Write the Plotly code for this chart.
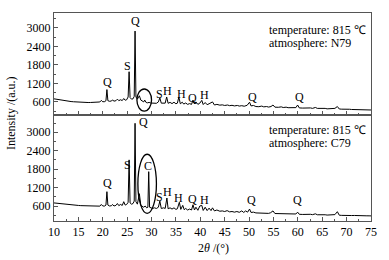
import plotly.graph_objects as go

# ---------------- data ----------------
two_theta_N79 = [10.0, 10.5, 11.0, 11.5, 12.0, 12.5, 13.0, 13.5, 14.0, 14.5, 15.0, 15.5, 16.0, 16.5, 17.0, 17.5,
                 18.0, 18.5, 19.0, 19.4, 19.7, 20.0, 20.4, 20.65, 20.85, 21.05, 21.4, 21.8, 22.0, 22.3, 22.7, 23.0,
                 23.3, 23.6, 24.0, 24.3, 24.6, 24.9, 25.2, 25.4, 25.6, 25.9, 26.2, 26.45, 26.62, 26.8, 27.1, 27.5,
                 27.8, 28.1, 28.4, 28.6, 28.9, 29.2, 29.5, 29.8, 30.2, 30.6, 31.0, 31.4, 31.7, 32.0, 32.5, 32.8,
                 33.1, 33.4, 33.8, 34.2, 34.6, 35.0, 35.3, 35.6, 35.9, 36.3, 36.6, 37.0, 37.4, 37.8, 38.2, 38.5,
                 38.8, 39.1, 39.5, 39.9, 40.3, 40.6, 41.0, 41.4, 41.8, 42.5, 42.9, 43.4, 44.0, 44.5, 45.0, 45.6,
                 46.0, 46.5, 47.0, 47.6, 48.0, 48.5, 49.0, 49.6, 50.1, 50.4, 50.9, 51.4, 52.0, 52.6, 53.0, 53.6,
                 54.0, 54.5, 54.9, 55.3, 56.0, 56.6, 57.0, 57.6, 58.0, 58.6, 59.0, 59.6, 59.95, 60.3, 61.0, 61.6,
                 62.0, 62.6, 63.0, 63.6, 64.0, 64.6, 65.0, 65.6, 66.0, 66.6, 67.0, 67.6, 68.1, 68.5, 69.0, 69.6,
                 70.0, 70.6, 71.0, 71.6, 72.0, 72.6, 73.0, 73.6, 74.0, 74.6, 75.0]
intensity_N79 = [700, 685, 670, 655, 640, 630, 620, 612, 605, 598, 592, 588, 585, 582, 580, 582,
                 585, 590, 592, 598, 650, 605, 610, 640, 1000, 640, 620, 630, 665, 625, 640, 690,
                 640, 670, 645, 710, 655, 670, 760, 1580, 740, 690, 700, 780, 2900, 760, 690, 800,
                 660, 620, 600, 660, 580, 570, 585, 565, 560, 575, 555, 600, 730, 560, 575, 560,
                 760, 555, 585, 545, 590, 540, 560, 760, 540, 590, 530, 565, 520, 545, 520, 660,
                 540, 600, 520, 560, 650, 515, 580, 510, 540, 600, 500, 520, 495, 505, 485, 500,
                 478, 490, 470, 485, 465, 478, 460, 490, 590, 470, 485, 450, 445, 465, 440, 450,
                 432, 450, 500, 430, 425, 440, 418, 430, 412, 420, 405, 415, 500, 405, 400, 410,
                 395, 405, 390, 420, 390, 395, 380, 390, 375, 380, 370, 390, 450, 370, 365, 370,
                 358, 362, 355, 356, 350, 350, 347, 345, 343, 340, 338]

two_theta_C79 = [10.0, 10.5, 11.0, 11.5, 12.0, 12.5, 13.0, 13.5, 14.0, 14.5, 15.0, 15.5, 16.0, 16.5, 17.0, 17.5,
                 18.0, 18.5, 19.0, 19.4, 19.7, 20.0, 20.4, 20.65, 20.85, 21.05, 21.4, 21.8, 22.0, 22.3, 22.7, 23.0,
                 23.3, 23.6, 24.0, 24.3, 24.6, 24.9, 25.2, 25.4, 25.6, 25.9, 26.2, 26.45, 26.62, 26.8, 27.1, 27.5,
                 27.8, 28.1, 28.4, 28.7, 29.0, 29.25, 29.42, 29.6, 29.9, 30.2, 30.6, 31.0, 31.4, 31.7, 32.0, 32.5,
                 32.8, 33.15, 33.4, 33.8, 34.2, 34.6, 35.0, 35.3, 35.7, 36.0, 36.4, 36.7, 37.0, 37.4, 37.8, 38.2,
                 38.5, 38.8, 39.1, 39.5, 39.9, 40.3, 40.6, 41.0, 41.4, 41.8, 42.2, 42.5, 42.9, 43.4, 44.0, 44.5,
                 45.0, 45.5, 46.0, 46.5, 47.0, 47.5, 48.0, 48.5, 48.9, 49.3, 49.7, 50.1, 50.4, 50.9, 51.4, 52.0,
                 52.6, 53.0, 53.6, 54.0, 54.4, 54.9, 55.3, 56.0, 56.6, 57.0, 57.6, 58.0, 58.6, 59.0, 59.6, 59.95,
                 60.3, 61.0, 61.6, 62.0, 62.6, 63.0, 63.6, 64.0, 64.6, 65.0, 65.6, 66.0, 66.6, 67.0, 67.6, 68.1,
                 68.5, 69.0, 69.6, 70.0, 70.6, 71.0, 71.6, 72.0, 72.6, 73.0, 73.6, 74.0, 74.6, 75.0]
intensity_C79 = [700, 690, 675, 665, 655, 645, 640, 632, 628, 622, 618, 612, 608, 604, 600, 598,
                 596, 594, 592, 595, 650, 600, 600, 630, 1066, 630, 600, 610, 650, 600, 620, 680,
                 610, 650, 620, 740, 630, 650, 720, 2100, 700, 660, 680, 760, 3290, 740, 660, 1000,
                 620, 580, 560, 600, 540, 560, 1717, 560, 530, 520, 540, 520, 560, 760, 520, 540,
                 520, 860, 510, 540, 500, 540, 490, 510, 720, 490, 620, 480, 520, 470, 500, 470,
                 640, 470, 560, 460, 600, 620, 455, 560, 450, 530, 450, 540, 440, 470, 430, 440,
                 420, 450, 410, 420, 400, 420, 395, 440, 390, 440, 400, 500, 390, 400, 375, 370,
                 385, 365, 375, 360, 380, 440, 355, 350, 360, 345, 355, 340, 345, 335, 340, 400,
                 330, 325, 335, 320, 330, 318, 345, 315, 320, 310, 315, 305, 310, 300, 320, 415,
                 300, 295, 300, 292, 295, 290, 292, 287, 288, 284, 283, 281, 280, 278]

y_tick_values = [600, 1200, 1800, 2400, 3000]
x_tick_values = [10, 15, 20, 25, 30, 35, 40, 45, 50, 55, 60, 65, 70, 75]

# phase labels: (text, 2theta, intensity)
labels_N79 = [("Q", 20.87, 1249), ("S", 25.17, 1767), ("Q", 26.61, 3227), ("S", 31.73, 859),
              ("H", 33.17, 957), ("H", 36.04, 859), ("Q", 38.5, 730), ("H", 40.96, 827),
              ("Q", 50.8, 762), ("Q", 60.24, 762)]
labels_C79 = [("Q", 21.07, 1339), ("S", 25.17, 1935), ("Q", 28.25, 3335), ("C", 29.27, 1902),
              ("S", 31.73, 893), ("H", 33.17, 1056), ("H", 35.6, 860), ("Q", 38.5, 812),
              ("H", 40.96, 795), ("Q", 50.4, 795), ("Q", 60.0, 795)]

FONT = "Liberation Serif, Times New Roman, serif"

fig = go.Figure()
fig.add_trace(go.Scatter(x=two_theta_N79, y=intensity_N79, mode="lines",
                         line=dict(color="black", width=1), xaxis="x", yaxis="y", showlegend=False))
fig.add_trace(go.Scatter(x=two_theta_C79, y=intensity_C79, mode="lines",
                         line=dict(color="black", width=1), xaxis="x2", yaxis="y2", showlegend=False))

annotations = []
for t, xv, yv in labels_N79:
    annotations.append(dict(text=t, x=xv, y=yv, xref="x", yref="y", showarrow=False,
                            font=dict(family=FONT, size=12, color="black")))
for t, xv, yv in labels_C79:
    annotations.append(dict(text=t, x=xv, y=yv, xref="x2", yref="y2", showarrow=False,
                            font=dict(family=FONT, size=12, color="black")))

info = [("temperature: 815 ℃", 0.918), ("atmosphere: N79", 0.855),
        ("temperature: 815 ℃", 0.4375), ("atmosphere: C79", 0.3745)]
for t, yv in info:
    annotations.append(dict(text=t, x=0.672, y=yv, xref="paper", yref="paper", xanchor="left",
                            yanchor="middle", showarrow=False,
                            font=dict(family=FONT, size=12, color="black")))

annotations.append(dict(text="Intensity /(a.u.)", x=-0.135, y=0.52, xref="paper", yref="paper",
                        textangle=-90, showarrow=False, xanchor="center", yanchor="middle",
                        font=dict(family=FONT, size=12, color="black")))
annotations.append(dict(text="2<i>θ</i> /(°)", x=0.5016, y=-0.13, xref="paper", yref="paper",
                        showarrow=False, xanchor="center", yanchor="middle",
                        font=dict(family=FONT, size=12, color="black")))

shapes = [
    dict(type="circle", xref="x", yref="y", x0=27.0, x1=30.0, y0=300, y1=1020,
         line=dict(color="black", width=1.3)),
    dict(type="circle", xref="x2", yref="y2", x0=27.2, x1=31.0, y0=362, y1=2283,
         line=dict(color="black", width=1.3)),
]

axis_line = "#555555"
xcommon = dict(range=[10, 75], tickvals=x_tick_values, ticks="inside", ticklen=4, tickcolor=axis_line,
               showline=True, linecolor=axis_line, linewidth=1, mirror=True, showgrid=False, zeroline=False,
               minor=dict(ticks="inside", ticklen=2, dtick=2.5, tick0=10, tickcolor=axis_line),
               tickfont=dict(family=FONT, size=12, color="black"))
ycommon = dict(tickvals=y_tick_values, ticks="inside", ticklen=4, tickcolor=axis_line,
               showline=True, linecolor=axis_line, linewidth=1, mirror=True, showgrid=False, zeroline=False,
               minor=dict(ticks="inside", ticklen=2, dtick=300, tick0=0, tickcolor=axis_line),
               tickfont=dict(family=FONT, size=12, color="black"))

fig.update_layout(
    width=389, height=260,
    margin=dict(l=54, r=18, t=13, b=39),
    paper_bgcolor="white", plot_bgcolor="white",
    font=dict(family=FONT, size=12, color="black"),
    xaxis=dict(domain=[0, 1], anchor="y", showticklabels=False, **xcommon),
    xaxis2=dict(domain=[0, 1], anchor="y2", showticklabels=True, matches="x", **xcommon),
    yaxis=dict(domain=[0.51, 1], anchor="x", range=[178, 3486], **ycommon),
    yaxis2=dict(domain=[0, 0.51], anchor="x2", range=[112, 3563], **ycommon),
    annotations=annotations,
    shapes=shapes,
    showlegend=False,
)

fig.write_html("out.html", config={"displayModeBar": False},
               post_script="document.body.style.margin='0';document.body.style.overflow='hidden';")
